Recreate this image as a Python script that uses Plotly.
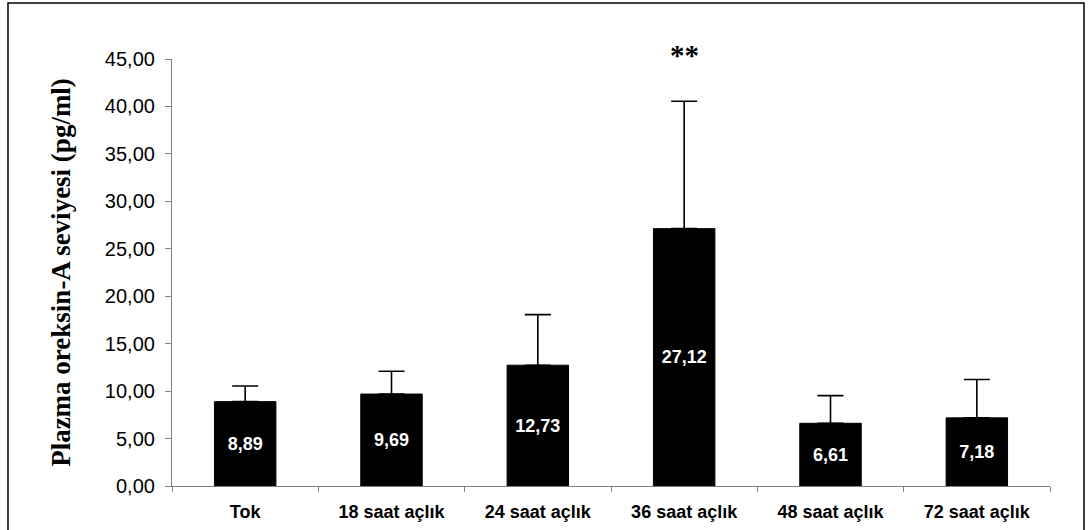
import plotly.graph_objects as go

categories = ["Tok", "18 saat açlık", "24 saat açlık", "36 saat açlık", "48 saat açlık", "72 saat açlık"]
means = [8.89, 9.69, 12.73, 27.12, 6.61, 7.18]
errors = [1.65, 2.4, 5.33, 13.43, 2.91, 4.05]
labels = ["8,89", "9,69", "12,73", "27,12", "6,61", "7,18"]
y_ticks = [0, 5, 10, 15, 20, 25, 30, 35, 40, 45]
y_tick_text = ["0,00", "5,00", "10,00", "15,00", "20,00", "25,00", "30,00", "35,00", "40,00", "45,00"]
sig_category = "36 saat açlık"
sig_text = "**"

fig = go.Figure()
fig.add_trace(go.Bar(
    x=categories, y=means,
    marker=dict(color="black", line=dict(color="black", width=1)),
    width=0.42,
    text=labels, textposition="inside", insidetextanchor="middle",
    textfont=dict(family="Liberation Sans, Arial", size=18, color="white", weight="bold"),
    textangle=0,
    error_y=dict(type="data", array=errors, arrayminus=[0]*len(errors), symmetric=False,
                 color="black", thickness=1.6, width=13),
    hoverinfo="skip",
))

fig.add_annotation(x=sig_category, y=45, yref="y", text=sig_text, showarrow=False,
                   font=dict(family="Liberation Serif, Times New Roman", size=29, color="black", weight="bold"),
                   yshift=4)

fig.add_shape(type="rect", xref="paper", yref="paper", x0=-0.1868, x1=1.0387, y0=-0.2, y1=1.131,
              line=dict(color="black", width=1.5), fillcolor="rgba(0,0,0,0)", layer="below")

fig.update_layout(
    width=1088, height=530,
    margin=dict(l=172, r=38, t=59, b=44, pad=0),
    plot_bgcolor="white", paper_bgcolor="white",
    showlegend=False,
    font=dict(family="Liberation Sans, Arial", color="black"),
)
fig.update_xaxes(
    type="category", showgrid=False, zeroline=False, automargin=False,
    showline=True, linecolor="#808080", linewidth=1.2,
    ticks="outside", tickson="boundaries", ticklen=5, tickcolor="#808080", tickwidth=1,
    ticklabelstandoff=9,
    tickfont=dict(family="Liberation Sans, Arial", size=18, color="black", weight="bold"),
)
fig.update_yaxes(
    range=[0, 45], showgrid=False, zeroline=False, automargin=False,
    showline=True, linecolor="#808080", linewidth=1.2,
    ticks="outside", ticklen=6, tickcolor="#808080", tickwidth=1,
    ticklabelstandoff=6,
    tickvals=y_ticks, ticktext=y_tick_text,
    tickfont=dict(family="Liberation Sans, Arial", size=20, color="black"),
    title=dict(text="Plazma oreksin-A seviyesi (pg/ml)", standoff=26,
               font=dict(family="Liberation Serif, Times New Roman", size=27, color="black", weight="bold")),
)

fig.write_html("out.html")
